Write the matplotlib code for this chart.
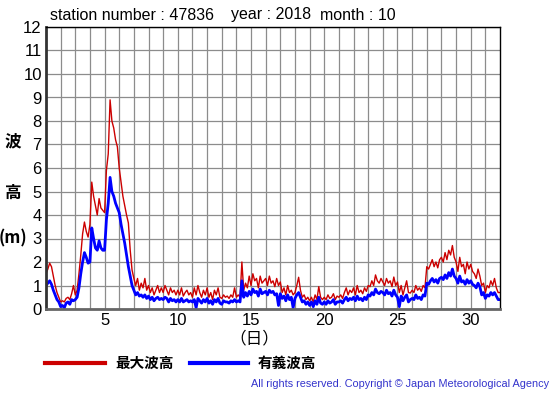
import numpy as np
import matplotlib
matplotlib.use("Agg")
import matplotlib.pyplot as plt

plt.rcParams['font.family'] = ['Liberation Sans', 'Noto Sans CJK JP', 'DejaVu Sans']

# 3-hourly values, 8 per day, days 1..31, plus final point at day 32
max_wave = [
    1.5, 1.7, 1.95, 1.8, 1.4, 1.0, 0.7, 0.5,
    0.3, 0.35, 0.3, 0.45, 0.5, 0.4, 0.65, 1.0,
    0.6, 0.8, 1.5, 2.3, 3.2, 3.7, 3.3, 3.06,
    3.6, 5.4, 4.8, 4.4, 4.0, 4.7, 4.3, 4.2,
    4.1, 5.9, 6.6, 8.9, 8.0, 7.7, 7.2, 6.9,
    6.0, 5.4, 4.8, 4.4, 4.0, 3.66, 2.5, 1.66,
    1.3, 1.0, 1.3, 0.8, 1.1, 0.9, 1.3, 0.8,
    1.0, 0.7, 0.9, 0.6, 0.8, 1.0, 0.7, 0.9,
    0.7, 1.0, 0.8, 0.6, 0.9, 0.7, 0.8, 0.6,
    0.8, 0.6, 0.9, 0.55, 0.7, 0.8, 0.6, 0.7,
    0.5, 0.9, 0.6, 1.0, 0.7, 0.5, 0.8, 0.6,
    0.9, 0.5, 0.7, 0.4, 0.8, 0.6, 0.9, 0.5,
    0.45, 0.6, 0.5, 0.55, 0.45, 0.6, 0.5, 0.9,
    0.5, 0.6, 0.5, 2.0, 0.8, 1.1, 0.9, 1.4,
    1.0, 1.5, 1.2, 1.3, 0.9, 1.4, 1.1, 1.2,
    1.3, 1.0, 1.4, 1.1, 1.2, 0.95, 1.3, 1.0,
    1.15, 0.7, 0.9, 0.6, 1.0, 0.7, 0.8, 0.6,
    0.7, 1.0, 1.35, 0.8, 0.5, 0.6, 0.4, 0.5,
    0.35, 0.5, 0.3, 0.6, 0.4, 0.95, 0.5, 0.4,
    0.5, 0.4, 0.6, 0.45, 0.5, 0.65, 0.4, 0.55,
    0.5, 0.6, 0.45, 0.7, 0.9, 0.6, 0.8, 0.7,
    0.9, 0.6, 1.0, 0.7, 0.8, 0.65, 0.9, 0.75,
    1.0, 0.95, 1.2, 1.0, 1.45, 1.2, 1.1, 1.3,
    1.15, 1.0, 1.3, 1.1, 1.2, 0.95, 1.36, 1.0,
    1.15, 0.7, 1.0, 0.6, 0.9, 1.2, 0.7, 0.68,
    0.8, 0.7, 1.0, 0.8, 0.9, 0.75, 1.0, 0.9,
    1.8, 1.7, 1.9, 2.1, 1.8, 2.0, 1.75, 2.1,
    2.2, 2.0, 2.4, 2.1, 2.5, 2.3, 2.7, 2.2,
    2.0, 1.6, 2.2, 1.8, 1.9, 1.5, 2.0, 1.7,
    1.9, 1.6, 1.5, 1.3, 1.7, 1.4, 1.0, 1.1,
    0.7, 1.0, 0.9, 1.2, 1.0, 1.3, 0.9, 0.7,
    0.7,
]

sig_wave = [
    1.0, 1.1, 1.2, 1.05, 0.8, 0.6, 0.4, 0.3,
    0.1, 0.15, 0.05, 0.25, 0.3, 0.2, 0.4, 0.35,
    0.4, 0.5, 0.9, 1.5, 2.0, 2.4, 2.2, 1.95,
    2.0, 3.45, 3.0, 2.6, 2.5, 2.9, 2.6, 2.5,
    2.5, 3.8, 4.5, 5.6, 5.0, 4.8, 4.5, 4.3,
    4.1, 3.6, 3.2, 2.8, 2.3, 1.8, 1.4, 1.0,
    0.8, 0.6, 0.7, 0.55, 0.6, 0.5, 0.6, 0.45,
    0.55, 0.4, 0.5, 0.35, 0.45, 0.5, 0.4, 0.45,
    0.4, 0.5, 0.45, 0.3, 0.45, 0.35, 0.4, 0.3,
    0.4, 0.3, 0.45, 0.3, 0.35, 0.4, 0.3, 0.35,
    0.3, 0.4, 0.05, 0.45, 0.35, 0.25, 0.4, 0.3,
    0.45, 0.25, 0.35, 0.2, 0.4, 0.3, 0.45, 0.25,
    0.2, 0.35, 0.3, 0.3, 0.25, 0.35, 0.3, 0.4,
    0.3, 0.35, 0.3, 1.2, 0.5, 0.7, 0.55, 0.75,
    0.6, 0.85, 0.7, 0.75, 0.55, 0.85, 0.65, 0.7,
    0.75, 0.6, 0.8, 0.7, 0.75, 0.6, 0.65, 0.15,
    0.65, 0.45, 0.55, 0.35, 0.6, 0.4, 0.5, 0.05,
    0.45, 0.6, 0.7, 0.5, 0.3, 0.35, 0.2, 0.3,
    0.15, 0.3, 0.1, 0.35, 0.2, 0.5, 0.25, 0.2,
    0.3, 0.2, 0.35, 0.25, 0.3, 0.4, 0.2, 0.3,
    0.3, 0.35, 0.25, 0.4, 0.5, 0.35, 0.45, 0.4,
    0.5, 0.35, 0.55, 0.4, 0.45, 0.35, 0.5, 0.4,
    0.6, 0.55, 0.7, 0.6, 0.85, 0.7, 0.65, 0.75,
    0.7, 0.6, 0.8, 0.65, 0.7, 0.55, 0.8, 0.6,
    0.5, 0.1, 0.55, 0.35, 0.5, 0.6, 0.3, 0.4,
    0.45, 0.4, 0.6, 0.45, 0.5, 0.4, 0.6, 0.55,
    1.1, 1.05, 1.2, 1.3, 1.15, 1.25, 1.1, 1.3,
    1.35, 1.25, 1.45, 1.3, 1.55, 1.4, 1.7, 1.4,
    1.3, 1.1, 1.4, 1.15, 1.2, 1.05, 1.25, 1.1,
    1.2, 1.05, 1.0, 0.9, 1.1, 0.95, 0.6, 0.7,
    0.45, 0.6, 0.55, 0.7, 0.6, 0.7, 0.55, 0.4,
    0.4,
]

samples_per_day = 8
start_day = 1
x_ticks = [5, 10, 15, 20, 25, 30]
y_ticks = list(range(0, 13))
title_parts = ["station number : 47836", "year : 2018", "month : 10"]
legend_labels = ["最大波高", "有義波高"]

t = start_day + np.arange(len(max_wave)) / samples_per_day

W, H = 555, 395
fig = plt.figure(figsize=(W / 100, H / 100), dpi=100)
ax = fig.add_axes([46 / W, (H - 309) / H, 454 / W, 282 / H])

ax.set_xlim(1, 32)
ax.set_ylim(0, 12)
ax.set_xticks(range(2, 32), minor=True)
ax.set_xticks(x_ticks)
ax.set_yticks(y_ticks)
ax.grid(True, which='both', color='#8c8c8c', linewidth=0.9)
ax.set_axisbelow(True)
ax.tick_params(axis='both', which='both', length=0, labelsize=12)
ax.tick_params(axis='x', pad=3)
ax.tick_params(axis='y', pad=3)
for s in ['top', 'right']:
    ax.spines[s].set_linewidth(1.0)
    ax.spines[s].set_color('black')
ax.spines['left'].set_linewidth(2.0)
ax.spines['left'].set_color('#333333')
ax.spines['bottom'].set_linewidth(2.0)
ax.spines['bottom'].set_color('#666666')

ax.plot(t, max_wave, color='#cc0000', linewidth=1.0)
ax.plot(t, sig_wave, color='#0000ff', linewidth=2.0)

# title
fig.text(50 / W, 1 - 15 / H, title_parts[0], fontsize=11.5, va='center', ha='left')
fig.text(231 / W, 1 - 15 / H, title_parts[1], fontsize=11.5, va='center', ha='left')
fig.text(320 / W, 1 - 15 / H, title_parts[2], fontsize=11.5, va='center', ha='left')

# y label
cjk = ['Noto Sans CJK JP', 'DejaVu Sans']
fig.text(13 / W, 1 - 141 / H, "波", fontsize=12, ha='center', va='center', family=cjk, weight='bold')
fig.text(13 / W, 1 - 193 / H, "高", fontsize=12, ha='center', va='center', family=cjk, weight='bold')
fig.text(13 / W, 1 - 238 / H, "(m)", fontsize=12, ha='center', va='center', family=cjk, weight='bold')

# x label
fig.text(254 / W, 1 - 339 / H, "（日）", fontsize=12, ha='center', va='center', family=cjk)

# legend
fig.add_artist(plt.Line2D([45 / W, 105 / W], [1 - 363 / H] * 2, color='#cc0000', linewidth=3, transform=fig.transFigure))
fig.text(115 / W, 1 - 363 / H, legend_labels[0], fontsize=10.5, ha='left', va='center', family=cjk, weight='bold')
fig.add_artist(plt.Line2D([190 / W, 248 / W], [1 - 363 / H] * 2, color='#0000ff', linewidth=3, transform=fig.transFigure))
fig.text(258 / W, 1 - 363 / H, legend_labels[1], fontsize=10.5, ha='left', va='center', family=cjk, weight='bold')

# copyright
fig.text(549 / W, 1 - 384 / H, "All rights reserved. Copyright © Japan Meteorological Agency",
         fontsize=7.8, ha='right', va='center', color='#3333cc')

fig.savefig("out.png", dpi=100)
